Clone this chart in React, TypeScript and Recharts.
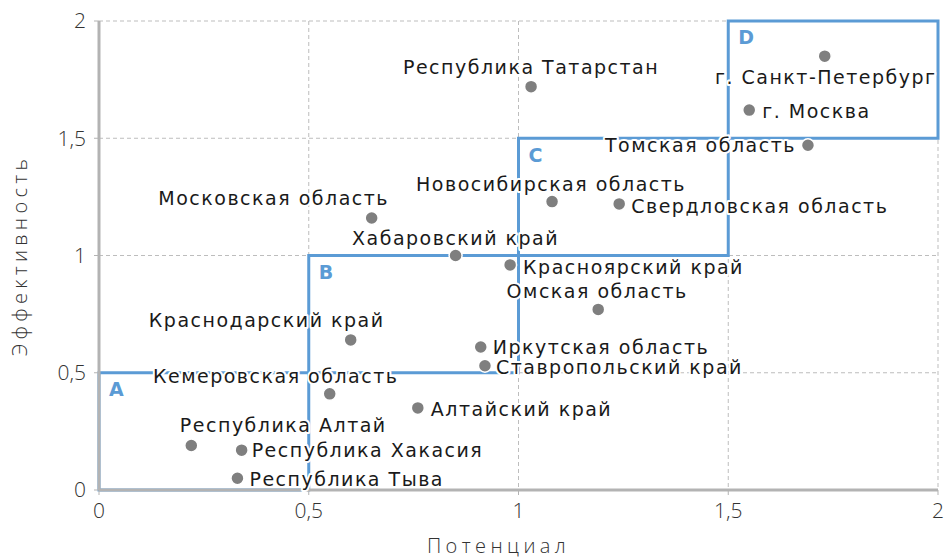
import {
  CartesianGrid,
  Label,
  ReferenceArea,
  Scatter,
  ScatterChart,
  XAxis,
  YAxis,
} from "recharts";

const regions = [
  "Республика Татарстан",
  "г. Санкт-Петербург",
  "г. Москва",
  "Томская область",
  "Новосибирская область",
  "Свердловская область",
  "Московская область",
  "Хабаровский край",
  "Красноярский край",
  "Омская область",
  "Краснодарский край",
  "Иркутская область",
  "Ставропольский край",
  "Кемеровская область",
  "Алтайский край",
  "Республика Алтай",
  "Республика Хакасия",
  "Республика Тыва",
];

const potential = [
  1.03, 1.73, 1.55, 1.69, 1.08, 1.24, 0.65, 0.85, 0.98, 1.19, 0.6, 0.91, 0.92,
  0.55, 0.76, 0.22, 0.34, 0.33,
];

const efficiency = [
  1.72, 1.85, 1.62, 1.47, 1.23, 1.22, 1.16, 1.0, 0.96, 0.77, 0.64, 0.61, 0.53,
  0.41, 0.35, 0.19, 0.17, 0.05,
];

const quadrants = ["A", "B", "C", "D"];
const quadrantBounds = [0, 0.5, 1, 1.5, 2];
const ticks = [0, 0.5, 1, 1.5, 2];

// where each region's name sits relative to its dot
const labelPlacement: Record<string, { anchor: string; dx: number; dy: number }> = {
  "Республика Татарстан": { anchor: "middle", dx: 0, dy: -20 },
  "г. Санкт-Петербург": { anchor: "middle", dx: 1, dy: 21 },
  "г. Москва": { anchor: "start", dx: 13, dy: 1 },
  "Томская область": { anchor: "end", dx: -12, dy: 0 },
  "Новосибирская область": { anchor: "middle", dx: -1, dy: -18 },
  "Свердловская область": { anchor: "start", dx: 12, dy: 2 },
  "Московская область": { anchor: "middle", dx: -98, dy: -20 },
  "Хабаровский край": { anchor: "middle", dx: 0, dy: -18 },
  "Красноярский край": { anchor: "start", dx: 13, dy: 2 },
  "Омская область": { anchor: "middle", dx: -1, dy: -18 },
  "Краснодарский край": { anchor: "middle", dx: -84, dy: -20 },
  "Иркутская область": { anchor: "start", dx: 12, dy: 0 },
  "Ставропольский край": { anchor: "start", dx: 11, dy: 1 },
  "Кемеровская область": { anchor: "middle", dx: -54, dy: -18 },
  "Алтайский край": { anchor: "start", dx: 13, dy: 1 },
  "Республика Алтай": { anchor: "middle", dx: 92, dy: -20 },
  "Республика Хакасия": { anchor: "start", dx: 10, dy: 0 },
  "Республика Тыва": { anchor: "start", dx: 12, dy: 1 },
};

const data = regions.map((name, i) => ({
  name,
  x: potential[i],
  y: efficiency[i],
}));

const BLUE = "#5b9bd5";
const AXIS = "#b3b3b3";
const labelFont = "'DejaVu Sans', sans-serif";
const tickFont = "'Open Sans', sans-serif";

const fmt = (v: number) => String(v).replace(".", ",");

function RegionDot(props: any) {
  const { cx, cy, payload } = props;
  const p = labelPlacement[payload.name] ?? { anchor: "start", dx: 12, dy: 0 };
  return (
    <g>
      <circle cx={cx} cy={cy} r={6.5} fill="#7f7f7f" stroke="#fff" strokeWidth={1.5} />
      <text
        x={cx + p.dx}
        y={cy + p.dy}
        textAnchor={p.anchor as any}
        dominantBaseline="central"
        fontFamily={labelFont}
        fontSize={19}
        letterSpacing={1.5}
        fill="#1a1a1a"
        stroke="#fff"
        strokeWidth={4}
        strokeLinejoin="round"
        paintOrder="stroke"
      >
        {payload.name}
      </text>
    </g>
  );
}

export default function App() {
  return (
    <div style={{ position: "absolute", left: 0, top: 0, background: "#fff" }}>
      <ScatterChart
        width={946}
        height={557}
        margin={{ top: 21, right: 8, bottom: 0, left: 0 }}
      >
        <CartesianGrid stroke="#bdbdbd" strokeDasharray="4 3" />
        <XAxis
          type="number"
          dataKey="x"
          domain={[0, 2]}
          ticks={ticks}
          tickFormatter={fmt}
          height={67}
          axisLine={{ stroke: AXIS, strokeWidth: 3 }}
          tickLine={{ stroke: AXIS }}
          tickSize={5}
          tickMargin={8}
          tick={{ fill: "#333", fontSize: 21, fontFamily: tickFont, fontWeight: 300 }}
        >
          <Label
            value="Потенциал"
            position="insideBottom"
            offset={4}
            dx={-20}
            style={{
              fill: "#333",
              fontSize: 20,
              fontFamily: tickFont,
              fontWeight: 300,
              letterSpacing: 4.4,
            }}
          />
        </XAxis>
        <YAxis
          type="number"
          dataKey="y"
          domain={[0, 2]}
          ticks={ticks}
          tickFormatter={fmt}
          width={99}
          axisLine={{ stroke: AXIS, strokeWidth: 3 }}
          tickLine={{ stroke: AXIS }}
          tickSize={5}
          tickMargin={8}
          tick={{ fill: "#333", fontSize: 21, fontFamily: tickFont, fontWeight: 300 }}
        >
          <Label
            value="Эффективность"
            angle={-90}
            position="insideLeft"
            offset={20}
            style={{
              textAnchor: "middle",
              fill: "#333",
              fontSize: 20,
              fontFamily: tickFont,
              fontWeight: 300,
              letterSpacing: 4.3,
            }}
          />
        </YAxis>
        {quadrants.map((q, i) => (
          <ReferenceArea
            key={q}
            x1={quadrantBounds[i]}
            x2={quadrantBounds[i + 1]}
            y1={quadrantBounds[i]}
            y2={quadrantBounds[i + 1]}
            fill="none"
            stroke={BLUE}
            strokeWidth={3}
            label={{
              value: q,
              position: "insideTopLeft",
              offset: 10,
              fill: BLUE,
              fontSize: 19,
              fontWeight: "bold",
              fontFamily: labelFont,
            }}
          />
        ))}
        <Scatter data={data} shape={RegionDot} isAnimationActive={false} />
      </ScatterChart>
    </div>
  );
}
